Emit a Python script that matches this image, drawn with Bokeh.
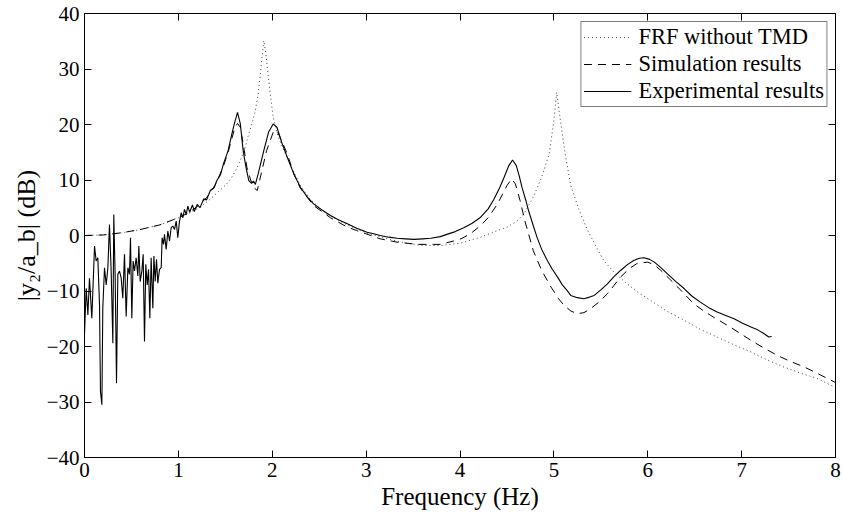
from bokeh.plotting import figure
from bokeh.models import LinearAxis, FixedTicker, CustomJSTickFormatter, Legend, LegendItem, Title
from bokeh.embed import file_html
from bokeh.resources import INLINE

# ---------------- data ----------------
exp_freq = [0.000, 0.018, 0.036, 0.053, 0.078, 0.107, 0.124, 0.142, 0.160, 0.170,
            0.185, 0.195, 0.213, 0.231, 0.249, 0.266, 0.284, 0.302, 0.312, 0.327,
            0.341, 0.355, 0.373, 0.391, 0.408, 0.426, 0.444, 0.462, 0.479, 0.490,
            0.504, 0.518, 0.533, 0.550, 0.568, 0.579, 0.593, 0.611, 0.625, 0.639,
            0.653, 0.668, 0.682, 0.696, 0.710, 0.728, 0.739, 0.753, 0.767, 0.781,
            0.799, 0.817, 0.827, 0.842, 0.852, 0.870, 0.888, 0.906, 0.923, 0.941,
            0.959, 0.977, 0.994, 1.012, 1.030, 1.048, 1.065, 1.083, 1.101,
            1.12, 1.15, 1.17, 1.20, 1.23, 1.27, 1.30, 1.34, 1.38, 1.41, 1.45, 1.48,
            1.53, 1.57, 1.60, 1.63, 1.66, 1.69, 1.72, 1.75, 1.78, 1.80, 1.82, 1.85,
            1.91, 1.96, 2.01, 2.05, 2.10, 2.16, 2.23, 2.30, 2.37, 2.44, 2.53, 2.62,
            2.71, 2.80, 2.90, 3.01, 3.08, 3.15, 3.24, 3.33, 3.42, 3.51, 3.60, 3.69,
            3.79, 3.86, 3.95, 4.04, 4.13, 4.22, 4.30, 4.36, 4.42, 4.47, 4.52, 4.56,
            4.60, 4.63, 4.66, 4.70, 4.73, 4.78, 4.82, 4.87, 4.93, 4.98, 5.04, 5.09,
            5.14, 5.18, 5.25, 5.32, 5.38, 5.43, 5.50, 5.57, 5.64, 5.71, 5.78, 5.85,
            5.91, 5.96, 6.02, 6.07, 6.14, 6.21, 6.30, 6.39, 6.47, 6.56, 6.65, 6.74,
            6.83, 6.92, 7.01, 7.10, 7.17, 7.24, 7.29, 7.32]
exp_db = [-17.9, -9.5, -14.3, -7.7, -14.9, -1.9, -4.6, -4.0, -12.5, -28.1,
          -30.5, -13.1, -5.8, -8.9, -5.8, 2.0, -6.4, -19.4, 3.8, -7.7,
          -26.6, -7.0, -6.4, -7.7, -11.3, -3.4, -14.6, -5.8, -7.0, -0.4,
          -14.9, -4.6, -6.4, -4.0, -7.3, -1.9, -8.3, -6.4, -3.4, -19.1,
          -5.2, -8.9, -6.1, -14.9, -4.0, -13.1, -3.7, -8.3, -4.3, -8.6,
          -6.1, -5.8, -0.4, -1.6, 0.2, -2.5, 0.8, -1.0, 1.4, 1.7,
          1.1, 2.6, -0.4, 2.6, 4.1, 3.2, 4.7, 3.8, 5.3,
          4.2, 5.5, 4.3, 5.6, 5.0, 6.6, 6.4, 8.1, 8.6, 9.9, 11.0, 12.9,
          15.3, 18.3, 20.4, 22.2, 20.1, 15.3, 12.3, 9.9, 9.4, 9.8, 9.2, 11.1,
          15.3, 18.6, 20.1, 19.5, 16.8, 14.1, 11.1, 8.7, 7.0, 5.7, 4.6, 3.6,
          2.8, 2.1, 1.3, 0.6, 0.3, 0.0, -0.3, -0.5, -0.6, -0.7, -0.6, -0.5,
          -0.2, 0.2, 0.7, 1.4, 2.2, 3.3, 4.8, 6.5, 8.5, 10.5, 12.6, 13.6,
          12.6, 10.8, 8.7, 6.4, 4.5, 1.8, -0.3, -2.5, -4.5, -6.0, -7.5, -8.9,
          -9.9, -10.8, -11.2, -11.4, -11.1, -10.8, -9.8, -8.7, -7.4, -6.3, -5.3, -4.5,
          -4.1, -4.0, -4.3, -4.8, -5.8, -6.9, -8.3, -9.6, -10.9, -12.0, -13.0, -13.8,
          -14.4, -15.0, -15.8, -16.5, -17.0, -17.7, -18.3, -18.2]

sim_freq = [0.0, 0.2, 0.4, 0.6, 0.8, 1.0, 1.1, 1.2, 1.3, 1.4, 1.48, 1.53, 1.57, 1.60,
            1.63, 1.66, 1.70, 1.73, 1.77, 1.80, 1.84, 1.89, 1.94, 2.01, 2.05, 2.10,
            2.16, 2.23, 2.30, 2.44, 2.62, 2.80, 2.90, 3.00, 3.15, 3.33, 3.55, 3.72,
            3.79, 3.93, 4.01, 4.11, 4.22, 4.30, 4.40, 4.50, 4.55, 4.59, 4.64, 4.69,
            4.78, 4.87, 4.97, 5.05, 5.11, 5.18, 5.25, 5.32, 5.39, 5.48, 5.57, 5.64,
            5.71, 5.80, 5.89, 6.00, 6.07, 6.14, 6.23, 6.32, 6.41, 6.49, 6.58, 6.67,
            6.78, 6.88, 6.99, 7.10, 7.24, 7.38, 7.52, 7.67, 7.80, 7.92, 8.00]
sim_db = [0.0, 0.1, 0.5, 1.1, 1.9, 3.2, 4.0, 5.2, 6.8, 9.3, 12.5, 15.0, 17.5, 19.3,
          20.2, 19.5, 15.5, 12.3, 10.0, 8.7, 8.1, 11.7, 15.3, 18.6, 18.9, 17.1,
          14.7, 11.1, 8.5, 5.4, 3.2, 1.5, 0.9, 0.3, -0.6, -1.2, -1.6, -1.6,
          -1.6, -1.0, -0.6, 0.3, 1.8, 3.2, 5.7, 9.0, 10.2, 9.3, 6.3, 2.7,
          -2.7, -6.3, -9.3, -11.4, -12.6, -13.6, -14.1, -13.9, -13.2, -12.0, -10.5, -9.0,
          -7.5, -6.0, -5.0, -4.8, -5.3, -6.3, -7.8, -9.3, -10.9, -12.3, -13.4, -14.4,
          -15.5, -16.5, -17.7, -18.9, -20.3, -21.6, -22.7, -23.7, -24.8, -25.8, -26.5]

frf_freq = [0.0, 0.2, 0.4, 0.6, 0.8, 1.0, 1.1, 1.23, 1.33, 1.44, 1.51, 1.57, 1.62,
            1.66, 1.71, 1.75, 1.79, 1.82, 1.85, 1.87, 1.89, 1.91, 1.93, 1.94, 1.97,
            2.01, 2.05, 2.10, 2.20, 2.30, 2.40, 2.50, 2.60, 2.80, 3.00, 3.20, 3.40,
            3.60, 3.80, 4.00, 4.22, 4.40, 4.50, 4.60, 4.68, 4.78, 4.87, 4.95, 5.00,
            5.03, 5.07, 5.12, 5.18, 5.27, 5.36, 5.45, 5.53, 5.65, 5.78, 5.90, 6.03,
            6.20, 6.39, 6.56, 6.74, 6.92, 7.10, 7.27, 7.45, 7.63, 7.81, 8.00]
frf_db = [0.0, 0.1, 0.5, 1.1, 1.9, 3.2, 3.9, 5.1, 6.4, 8.1, 9.2, 10.5, 12.0,
          13.5, 15.8, 18.3, 20.5, 22.5, 25.5, 28.5, 32.0, 35.1, 33.0, 31.5, 26.7,
          21.3, 18.5, 16.2, 12.5, 9.0, 6.6, 5.0, 3.7, 1.9, 0.5, -0.5, -1.3,
          -1.8, -1.8, -1.4, -0.3, 0.9, 1.5, 2.5, 3.9, 6.9, 10.5, 14.7, 20.7,
          25.8, 20.7, 14.7, 9.0, 4.5, 0.9, -2.0, -4.5, -6.8, -8.7, -10.3, -11.7,
          -13.6, -15.3, -16.9, -18.3, -19.7, -21.0, -22.4, -23.7, -24.8, -25.8, -27.4]

x_ticks = [0, 1, 2, 3, 4, 5, 6, 7, 8]
y_ticks = [-40, -30, -20, -10, 0, 10, 20, 30, 40]
series_labels = ["FRF without TMD", "Simulation results", "Experimental results"]
x_label = "Frequency (Hz)"
y_label = "|y\u2082/a_b| (dB)"

# ---------------- figure ----------------
FONT = "Liberation Serif"
p = figure(width=843, height=522, x_range=(0, 8), y_range=(-40, 40),
           output_backend="svg", toolbar_location=None,
           min_border_left=84, min_border_right=8, min_border_top=13,
           min_border_bottom=65, background_fill_color="white",
           border_fill_color="white")
p.grid.visible = False
p.outline_line_color = "black"
p.outline_line_width = 1

r_frf = p.line(frf_freq, frf_db, line_color="black", line_width=1,
               line_dash="1 3", line_alpha=0.75)
r_sim = p.line(sim_freq, sim_db, line_color="black", line_width=1,
               line_dash="8 6")
r_exp = p.line(exp_freq, exp_db, line_color="black", line_width=1.1)

def style_axis(ax, ticks, show_labels):
    ax.ticker = FixedTicker(ticks=ticks)
    ax.axis_line_color = "black"
    ax.major_tick_in = 7
    ax.major_tick_out = 0
    ax.minor_tick_in = 0
    ax.minor_tick_out = 0
    ax.major_tick_line_color = "black"
    if show_labels:
        ax.major_label_text_font = FONT
        ax.major_label_text_font_size = "21px"
        ax.major_label_text_color = "black"
        ax.major_label_overrides = {t: str(t).replace("-", "\u2212") for t in ticks}
        ax.major_label_standoff = 5
    else:
        ax.formatter = CustomJSTickFormatter(code="return ''")
        ax.major_label_text_font_size = "0px"
        ax.major_label_standoff = 0

style_axis(p.xaxis[0], x_ticks, True)
style_axis(p.yaxis[0], y_ticks, True)

ax_top = LinearAxis()
style_axis(ax_top, x_ticks, False)
p.add_layout(ax_top, "above")
ax_right = LinearAxis()
style_axis(ax_right, y_ticks, False)
p.add_layout(ax_right, "right")

t_x = Title(text=x_label, align="center", text_font=FONT, text_font_size="25px",
            text_font_style="normal", text_color="black", standoff=2)
p.add_layout(t_x, "below")
t_y = Title(text=y_label, align="center", text_font=FONT, text_font_size="26px",
            text_font_style="normal", text_color="black", standoff=6)
p.add_layout(t_y, "left")

legend = Legend(items=[LegendItem(label=series_labels[0], renderers=[r_frf]),
                       LegendItem(label=series_labels[1], renderers=[r_sim]),
                       LegendItem(label=series_labels[2], renderers=[r_exp])],
                location="top_right")
legend.margin = 8
legend.padding = 2
legend.spacing = 1
legend.label_height = 24
legend.glyph_height = 24
legend.glyph_width = 48
legend.label_standoff = 7
legend.label_text_font = FONT
legend.label_text_font_size = "22.5px"
legend.label_text_color = "black"
legend.border_line_color = "black"
legend.border_line_width = 1
legend.background_fill_color = "white"
legend.background_fill_alpha = 1
p.add_layout(legend, "center")

open("out.html", "w").write(file_html(p, INLINE))
